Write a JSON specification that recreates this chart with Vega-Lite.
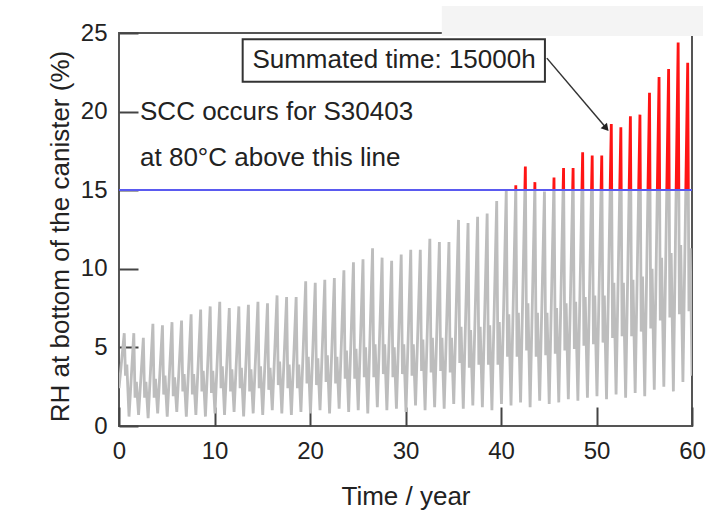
{
  "$schema": "https://vega.github.io/schema/vega-lite/v6.json",
  "background": "white",
  "padding": {"left": 46, "top": 4, "right": 5, "bottom": 5},
  "spacing": 0,
  "bounds": "flush",
  "config": {
    "font": "Liberation Sans",
    "view": {"stroke": "#555555", "strokeWidth": 2},
    "axis": {
      "grid": false, "domain": false,
      "labelFont": "Liberation Sans", "labelFontSize": 24, "labelColor": "#222222",
      "titleFont": "Liberation Sans", "titleFontSize": 26, "titleFontWeight": "normal", "titleColor": "#222222",
      "tickColor": "#444444", "tickWidth": 2, "tickSize": -19,
      "labelFlush": false, "labelOverlap": false
    },
    "axisY": {"labelPadding": 31, "titlePadding": 7},
    "axisX": {"labelPadding": 32, "titlePadding": 20}
  },
  "datasets": {
    "rh": [
      {"t":0,"rh":2.4},
      {"t":0.55,"rh":5.9},{"t":0.68,"rh":3.2},{"t":0.82,"rh":3.9},{"t":1.05,"rh":0.6},
      {"t":1.55,"rh":5.9},{"t":1.68,"rh":1.8},{"t":1.82,"rh":2.8},{"t":2.05,"rh":0.7},
      {"t":2.55,"rh":5.6},{"t":2.68,"rh":1.8},{"t":2.82,"rh":2.8},{"t":3.05,"rh":0.5},
      {"t":3.55,"rh":6.5},{"t":3.68,"rh":1.8},{"t":3.82,"rh":3.0},{"t":4.05,"rh":0.8},
      {"t":4.55,"rh":6.4},{"t":4.68,"rh":2.0},{"t":4.82,"rh":3.2},{"t":5.05,"rh":0.6},
      {"t":5.55,"rh":6.6},{"t":5.68,"rh":1.9},{"t":5.82,"rh":3.1},{"t":6.05,"rh":0.9},
      {"t":6.55,"rh":6.7},{"t":6.68,"rh":2.2},{"t":6.82,"rh":3.3},{"t":7.05,"rh":0.6},
      {"t":7.55,"rh":7.1},{"t":7.68,"rh":2.0},{"t":7.82,"rh":3.3},{"t":8.05,"rh":0.7},
      {"t":8.55,"rh":7.4},{"t":8.68,"rh":2.2},{"t":8.82,"rh":3.5},{"t":9.05,"rh":0.6},
      {"t":9.55,"rh":7.6},{"t":9.68,"rh":2.1},{"t":9.82,"rh":3.5},{"t":10.05,"rh":0.8},
      {"t":10.55,"rh":7.9},{"t":10.68,"rh":2.4},{"t":10.82,"rh":3.8},{"t":11.05,"rh":0.7},
      {"t":11.55,"rh":7.5},{"t":11.68,"rh":2.2},{"t":11.82,"rh":3.6},{"t":12.05,"rh":0.9},
      {"t":12.55,"rh":7.6},{"t":12.68,"rh":2.4},{"t":12.82,"rh":3.7},{"t":13.05,"rh":0.6},
      {"t":13.55,"rh":7.7},{"t":13.68,"rh":2.2},{"t":13.82,"rh":3.6},{"t":14.05,"rh":0.8},
      {"t":14.55,"rh":7.9},{"t":14.68,"rh":2.4},{"t":14.82,"rh":3.8},{"t":15.05,"rh":0.7},
      {"t":15.55,"rh":7.8},{"t":15.68,"rh":2.3},{"t":15.82,"rh":3.7},{"t":16.05,"rh":1.0},
      {"t":16.55,"rh":8.3},{"t":16.68,"rh":2.6},{"t":16.82,"rh":4.1},{"t":17.05,"rh":0.8},
      {"t":17.55,"rh":8.2},{"t":17.68,"rh":2.4},{"t":17.82,"rh":3.9},{"t":18.05,"rh":0.7},
      {"t":18.55,"rh":8.2},{"t":18.68,"rh":2.4},{"t":18.82,"rh":3.9},{"t":19.05,"rh":0.9},
      {"t":19.55,"rh":9.2},{"t":19.68,"rh":2.7},{"t":19.82,"rh":4.4},{"t":20.05,"rh":0.8},
      {"t":20.55,"rh":9.1},{"t":20.68,"rh":2.6},{"t":20.82,"rh":4.3},{"t":21.05,"rh":1.0},
      {"t":21.55,"rh":9.3},{"t":21.68,"rh":2.8},{"t":21.82,"rh":4.5},{"t":22.05,"rh":0.8},
      {"t":22.55,"rh":9.4},{"t":22.68,"rh":2.7},{"t":22.82,"rh":4.4},{"t":23.05,"rh":1.1},
      {"t":23.55,"rh":9.9},{"t":23.68,"rh":3.0},{"t":23.82,"rh":4.8},{"t":24.05,"rh":0.9},
      {"t":24.55,"rh":10.4},{"t":24.68,"rh":3.0},{"t":24.82,"rh":4.9},{"t":25.05,"rh":1.0},
      {"t":25.55,"rh":10.6},{"t":25.68,"rh":3.1},{"t":25.82,"rh":5.0},{"t":26.05,"rh":0.8},
      {"t":26.55,"rh":11.3},{"t":26.68,"rh":3.1},{"t":26.82,"rh":5.2},{"t":27.05,"rh":1.2},
      {"t":27.55,"rh":10.7},{"t":27.68,"rh":3.3},{"t":27.82,"rh":5.2},{"t":28.05,"rh":1.0},
      {"t":28.55,"rh":10.5},{"t":28.68,"rh":3.1},{"t":28.82,"rh":5.0},{"t":29.05,"rh":1.1},
      {"t":29.55,"rh":10.9},{"t":29.68,"rh":3.3},{"t":29.82,"rh":5.2},{"t":30.05,"rh":0.9},
      {"t":30.55,"rh":11.2},{"t":30.68,"rh":3.2},{"t":30.82,"rh":5.2},{"t":31.05,"rh":1.3},
      {"t":31.55,"rh":11.2},{"t":31.68,"rh":3.5},{"t":31.82,"rh":5.5},{"t":32.05,"rh":1.0},
      {"t":32.55,"rh":11.9},{"t":32.68,"rh":3.4},{"t":32.82,"rh":5.6},{"t":33.05,"rh":1.2},
      {"t":33.55,"rh":11.7},{"t":33.68,"rh":3.5},{"t":33.82,"rh":5.6},{"t":34.05,"rh":1.1},
      {"t":34.55,"rh":11.7},{"t":34.68,"rh":3.4},{"t":34.82,"rh":5.6},{"t":35.05,"rh":1.4},
      {"t":35.55,"rh":13.1},{"t":35.68,"rh":4.0},{"t":35.82,"rh":6.3},{"t":36.05,"rh":1.1},
      {"t":36.55,"rh":12.9},{"t":36.68,"rh":3.7},{"t":36.82,"rh":6.1},{"t":37.05,"rh":1.3},
      {"t":37.55,"rh":13.3},{"t":37.68,"rh":3.9},{"t":37.82,"rh":6.3},{"t":38.05,"rh":1.2},
      {"t":38.55,"rh":13.5},{"t":38.68,"rh":3.9},{"t":38.82,"rh":6.4},{"t":39.05,"rh":1.0},
      {"t":39.55,"rh":14.3},{"t":39.68,"rh":3.9},{"t":39.82,"rh":6.6},{"t":40.05,"rh":1.4},
      {"t":40.55,"rh":15.0},{"t":40.68,"rh":4.4},{"t":40.82,"rh":7.1},{"t":41.05,"rh":1.3},
      {"t":41.55,"rh":15.3},{"t":41.68,"rh":4.4},{"t":41.82,"rh":7.2},{"t":42.05,"rh":1.5},
      {"t":42.55,"rh":16.5},{"t":42.68,"rh":4.8},{"t":42.82,"rh":7.8},{"t":43.05,"rh":1.2},
      {"t":43.55,"rh":15.5},{"t":43.68,"rh":4.4},{"t":43.82,"rh":7.2},{"t":44.05,"rh":1.6},
      {"t":44.55,"rh":14.9},{"t":44.68,"rh":4.5},{"t":44.82,"rh":7.2},{"t":45.05,"rh":1.4},
      {"t":45.55,"rh":15.8},{"t":45.68,"rh":4.6},{"t":45.82,"rh":7.5},{"t":46.05,"rh":1.5},
      {"t":46.55,"rh":16.4},{"t":46.68,"rh":4.8},{"t":46.82,"rh":7.8},{"t":47.05,"rh":1.7},
      {"t":47.55,"rh":16.4},{"t":47.68,"rh":4.9},{"t":47.82,"rh":7.9},{"t":48.05,"rh":1.6},
      {"t":48.55,"rh":17.4},{"t":48.68,"rh":5.1},{"t":48.82,"rh":8.2},{"t":49.05,"rh":1.8},
      {"t":49.55,"rh":17.2},{"t":49.68,"rh":5.2},{"t":49.82,"rh":8.3},{"t":50.05,"rh":1.9},
      {"t":50.55,"rh":17.2},{"t":50.68,"rh":5.3},{"t":50.82,"rh":8.3},{"t":51.05,"rh":1.7},
      {"t":51.55,"rh":19.2},{"t":51.68,"rh":5.6},{"t":51.82,"rh":9.1},{"t":52.05,"rh":2.0},
      {"t":52.55,"rh":19.0},{"t":52.68,"rh":5.7},{"t":52.82,"rh":9.1},{"t":53.05,"rh":1.8},
      {"t":53.55,"rh":19.7},{"t":53.68,"rh":5.7},{"t":53.82,"rh":9.3},{"t":54.05,"rh":2.1},
      {"t":54.55,"rh":19.8},{"t":54.68,"rh":6.0},{"t":54.82,"rh":9.5},{"t":55.05,"rh":1.9},
      {"t":55.55,"rh":21.2},{"t":55.68,"rh":6.2},{"t":55.82,"rh":10.0},{"t":56.05,"rh":2.3},
      {"t":56.55,"rh":22.2},{"t":56.68,"rh":6.7},{"t":56.82,"rh":10.7},{"t":57.05,"rh":2.5},
      {"t":57.55,"rh":22.7},{"t":57.68,"rh":6.9},{"t":57.82,"rh":11.0},{"t":58.05,"rh":2.2},
      {"t":58.55,"rh":24.4},{"t":58.68,"rh":7.1},{"t":58.82,"rh":11.5},{"t":59.05,"rh":2.8},
      {"t":59.55,"rh":23.1},{"t":59.68,"rh":7.3},{"t":59.82,"rh":11.3},{"t":60,"rh":3.2}
    ]
  },
  "vconcat": [
    {
      "width": 573,
      "height": 157,
      "layer": [
        {
          "data": {"name": "rh"},
          "mark": {"type": "line", "clip": true, "color": "#ff1414", "strokeWidth": 2.8},
          "encoding": {
            "x": {"field": "t", "type": "quantitative", "scale": {"domain": [0, 60], "nice": false, "zero": false}, "axis": null},
            "y": {"field": "rh", "type": "quantitative", "scale": {"domain": [15, 25], "nice": false, "zero": false}, "axis": {"values": [20, 25], "title": null}}
          }
        },
        {
          "data": {"values": [{"x1": 33.8, "x2": 61.15, "y1": 24.81, "y2": 26.72}]},
          "mark": {"type": "rect", "fill": "#f4f4f4", "clip": false},
          "encoding": {
            "x": {"field": "x1", "type": "quantitative", "scale": {"domain": [0, 60], "nice": false, "zero": false}, "axis": null},
            "x2": {"field": "x2"},
            "y": {"field": "y1", "type": "quantitative", "scale": {"domain": [15, 25], "nice": false, "zero": false}},
            "y2": {"field": "y2"}
          }
        },
        {
          "data": {"values": [{"x1": 12.95, "x2": 44.6, "y1": 21.9, "y2": 24.6}]},
          "mark": {"type": "rect", "fill": "white", "stroke": "#333333", "strokeWidth": 2},
          "encoding": {
            "x": {"field": "x1", "type": "quantitative", "scale": {"domain": [0, 60], "nice": false, "zero": false}, "axis": null},
            "x2": {"field": "x2"},
            "y": {"field": "y1", "type": "quantitative", "scale": {"domain": [15, 25], "nice": false, "zero": false}},
            "y2": {"field": "y2"}
          }
        },
        {
          "data": {"values": [{"x": 28.8, "y": 23.25, "label": "Summated time: 15000h"}]},
          "mark": {"type": "text", "fontSize": 26, "font": "Liberation Sans", "color": "#222222", "align": "center", "baseline": "middle"},
          "encoding": {
            "x": {"field": "x", "type": "quantitative", "scale": {"domain": [0, 60], "nice": false, "zero": false}, "axis": null},
            "y": {"field": "y", "type": "quantitative", "scale": {"domain": [15, 25], "nice": false, "zero": false}},
            "text": {"field": "label"}
          }
        },
        {
          "data": {"values": [{"x": 44.8, "y": 23.4, "x2": 50.95, "y2": 19.0}]},
          "mark": {"type": "rule", "color": "#333333", "strokeWidth": 1.5},
          "encoding": {
            "x": {"field": "x", "type": "quantitative", "scale": {"domain": [0, 60], "nice": false, "zero": false}, "axis": null},
            "x2": {"field": "x2"},
            "y": {"field": "y", "type": "quantitative", "scale": {"domain": [15, 25], "nice": false, "zero": false}},
            "y2": {"field": "y2"}
          }
        },
        {
          "data": {"values": [{"x": 50.93, "y": 18.99}]},
          "mark": {"type": "point", "shape": "triangle", "filled": true, "color": "#222222", "size": 70, "angle": 139, "opacity": 1},
          "encoding": {
            "x": {"field": "x", "type": "quantitative", "scale": {"domain": [0, 60], "nice": false, "zero": false}, "axis": null},
            "y": {"field": "y", "type": "quantitative", "scale": {"domain": [15, 25], "nice": false, "zero": false}}
          }
        },
        {
          "data": {"values": [
            {"x": 2.2, "y": 19.97, "label": "SCC occurs for S30403"},
            {"x": 2.2, "y": 17.05, "label": "at 80°C above this line"}
          ]},
          "mark": {"type": "text", "fontSize": 26, "font": "Liberation Sans", "color": "#222222", "align": "left", "baseline": "middle"},
          "encoding": {
            "x": {"field": "x", "type": "quantitative", "scale": {"domain": [0, 60], "nice": false, "zero": false}, "axis": null},
            "y": {"field": "y", "type": "quantitative", "scale": {"domain": [15, 25], "nice": false, "zero": false}},
            "text": {"field": "label"}
          }
        }
      ]
    },
    {
      "width": 573,
      "height": 236,
      "layer": [
        {
          "data": {"name": "rh"},
          "mark": {"type": "line", "clip": true, "color": "#bdbdbd", "strokeWidth": 2.8},
          "encoding": {
            "x": {"field": "t", "type": "quantitative", "scale": {"domain": [0, 60], "nice": false, "zero": false}, "axis": {"values": [0, 10, 20, 30, 40, 50, 60], "title": "Time / year"}},
            "y": {"field": "rh", "type": "quantitative", "scale": {"domain": [0, 15], "nice": false, "zero": false}, "axis": {"values": [0, 5, 10, 15], "title": "RH at bottom of the canister (%)", "titleY": 46}}
          }
        },
        {
          "data": {"values": [{"v": 15}]},
          "mark": {"type": "rule", "color": "#5a5af0", "strokeWidth": 2.2},
          "encoding": {
            "y": {"field": "v", "type": "quantitative", "scale": {"domain": [0, 15], "nice": false, "zero": false}}
          }
        }
      ]
    }
  ]
}
